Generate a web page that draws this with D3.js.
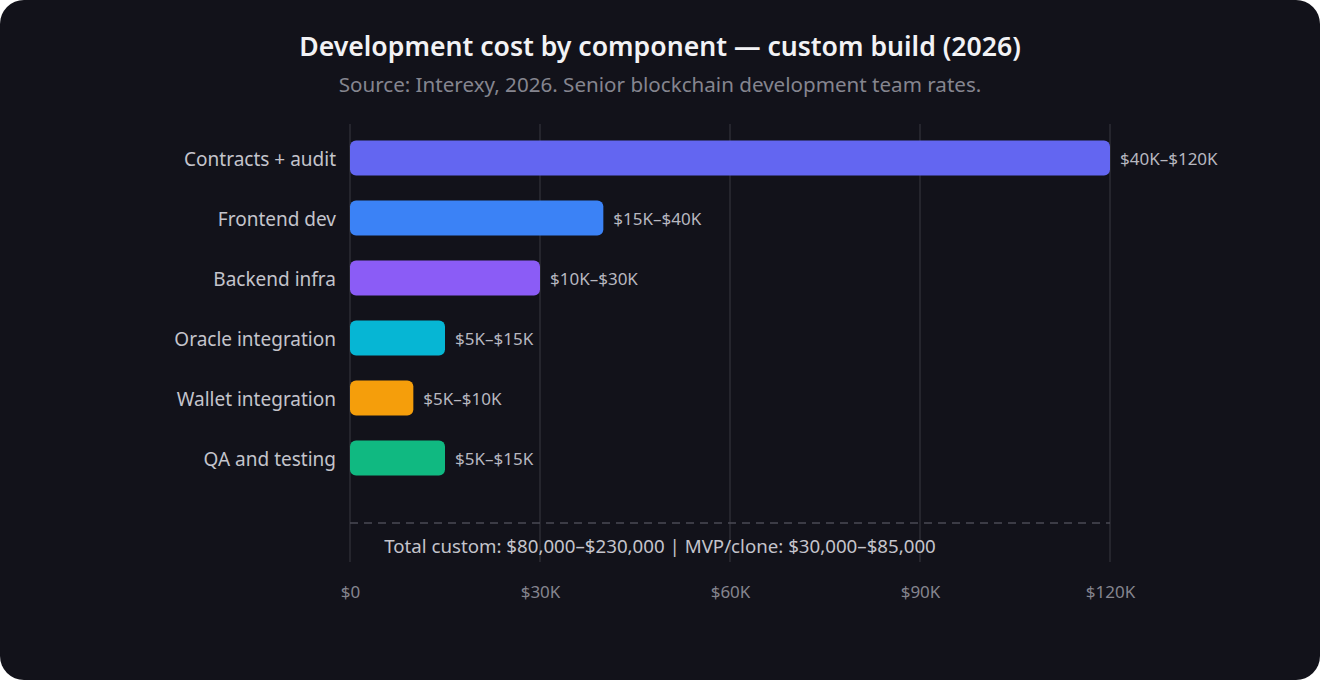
<!DOCTYPE html>
<html><head><meta charset="utf-8">
<script src="https://cdn.jsdelivr.net/npm/d3@7"></script>
<style>
html,body{margin:0;padding:0;background:#ffffff;}
svg{display:block;}
</style></head>
<body>
<svg id="chart" width="1320" height="680"></svg>
<script>
const categories = ["Contracts + audit","Frontend dev","Backend infra","Oracle integration","Wallet integration","QA and testing"];
const lowValues = [40,15,10,5,5,5];
const highValues = [120,40,30,15,10,15];
const valueLabels = ["$40K–$120K","$15K–$40K","$10K–$30K","$5K–$15K","$5K–$10K","$5K–$15K"];
const colors = ["#6366f1","#3b82f6","#8b5cf6","#06b6d4","#f59e0b","#10b981"];
const tickValues = [0,30,60,90,120];
const tickLabels = ["$0","$30K","$60K","$90K","$120K"];
const title = "Development cost by component — custom build (2026)";
const subtitle = "Source: Interexy, 2026. Senior blockchain development team rates.";
const footer = "Total custom: $80,000–$230,000 | MVP/clone: $30,000–$85,000";

const W = 1320, H = 680;
const font = "'Noto Sans', 'Open Sans', sans-serif";
const svg = d3.select("#chart");

svg.append("rect").attr("x",0).attr("y",0).attr("width",W).attr("height",H)
  .attr("rx",24).attr("ry",24).attr("fill","#12121a");

const x = d3.scaleLinear().domain([0,120]).range([350,1110]);
const y = d3.scaleBand().domain(categories).range([128,488]).paddingInner(0.42).paddingOuter(0.21);

// title
svg.append("text").attr("x",660).attr("y",56).attr("text-anchor","middle")
  .attr("font-family",font).attr("font-size",26.6).attr("font-weight",600)
  .attr("fill","#f2f2f5").text(title);
svg.append("text").attr("x",660).attr("y",92).attr("text-anchor","middle")
  .attr("font-family",font).attr("font-size",20.6)
  .attr("fill","#85858f").text(subtitle);

// grid
svg.append("g").selectAll("line").data(tickValues).join("line")
  .attr("x1",d=>x(d)).attr("x2",d=>x(d)).attr("y1",124).attr("y2",562)
  .attr("stroke","#2c2c35").attr("stroke-width",1.5);

// axis
const axis = d3.axisBottom(x).tickValues(tickValues).tickFormat((d,i)=>tickLabels[i]).tickSize(0).tickPadding(0);
const gx = svg.append("g").attr("transform","translate(0,586)").call(axis);
gx.select(".domain").remove();
gx.selectAll("text").attr("font-family",font).attr("font-size",17).attr("fill","#85858f").attr("dy","0.71em");

// bars
svg.append("g").selectAll("rect").data(categories).join("rect")
  .attr("x",x(0)).attr("y",d=>y(d)).attr("width",(d,i)=>x(highValues[i])-x(0))
  .attr("height",y.bandwidth()).attr("rx",6).attr("ry",6)
  .attr("fill",(d,i)=>colors[i]);

// category labels
svg.append("g").selectAll("text").data(categories).join("text")
  .attr("x",336).attr("y",d=>y(d)+y.bandwidth()/2+1).attr("dy","0.35em")
  .attr("text-anchor","end").attr("font-family",font).attr("font-size",19)
  .attr("fill","#c4c4cc").text(d=>d);

// value labels
svg.append("g").selectAll("text").data(categories).join("text")
  .attr("x",(d,i)=>x(highValues[i])+10).attr("y",d=>y(d)+y.bandwidth()/2+1).attr("dy","0.35em")
  .attr("font-family",font).attr("font-size",17)
  .attr("fill","#b8b8c0").text((d,i)=>valueLabels[i]);

// dashed line
svg.append("line").attr("x1",x(0)).attr("x2",x(120)).attr("y1",523).attr("y2",523)
  .attr("stroke","#4a4a54").attr("stroke-width",1.5).attr("stroke-dasharray","8,6");

svg.append("text").attr("x",660).attr("y",553).attr("text-anchor","middle")
  .attr("font-family",font).attr("font-size",18.7)
  .attr("fill","#c4c4cc").text(footer);
</script>
</body></html>
